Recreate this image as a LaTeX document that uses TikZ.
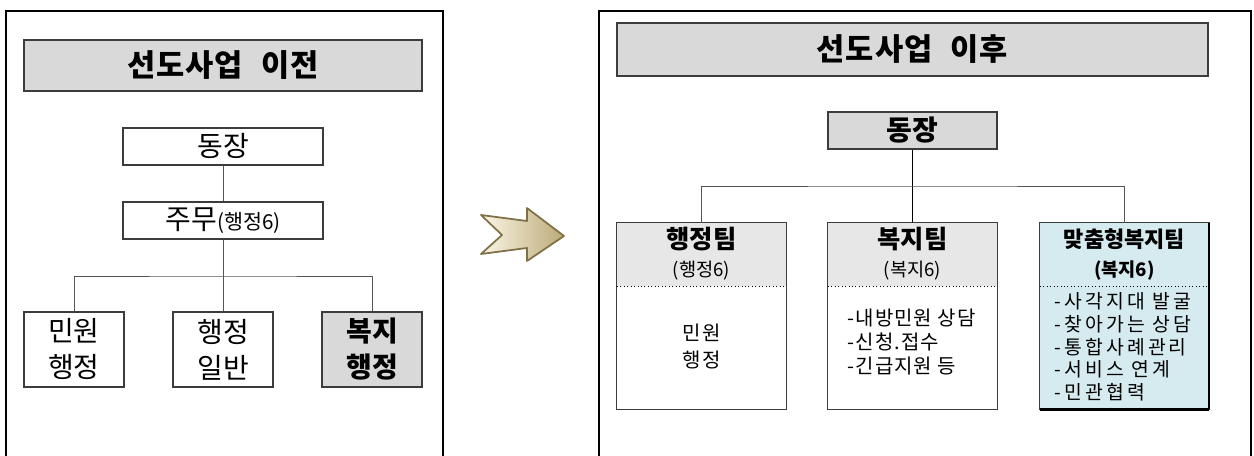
\documentclass[tikz,border=0pt]{standalone}
\usepackage{fontspec}
\setmainfont{Noto Sans CJK KR}
\usepackage{tikz}

\definecolor{titlegray}{RGB}{217,217,217}
\definecolor{headgray}{RGB}{231,231,231}
\definecolor{teamblue}{RGB}{214,235,239}
\definecolor{boxline}{RGB}{60,60,60}
\definecolor{linkgray}{RGB}{85,85,85}
\definecolor{arrowline}{RGB}{128,112,70}
\definecolor{arrowlight}{RGB}{250,246,230}
\definecolor{arrowdark}{RGB}{188,170,120}

\tikzset{
  panelframe/.style={line width=2.2pt, line join=miter},
  titlebox/.style={draw=boxline, line width=0.9pt, fill=titlegray, inner sep=0pt,
    font=\fontsize{23}{27}\selectfont\bfseries\addfontfeature{LetterSpace=3}},
  plainbox/.style={draw=boxline, line width=0.9pt, fill=white, inner sep=0pt, align=center},
  teamhead/.style={fill=headgray, inner sep=0pt, minimum width=126.75pt, minimum height=47.25pt},
  teambody/.style={fill=white, inner sep=0pt, minimum width=126.75pt, minimum height=92.25pt},
  link/.style={draw=linkgray, line width=0.7pt},
}

\begin{document}
\begin{tikzpicture}[x=0.75pt,y=0.75pt,yscale=-1,xscale=1]
\useasboundingbox (0,0) rectangle (1254,456);

%Shape: Frame [left panel]
\draw [panelframe] (6,460) -- (6,11) -- (443,11) -- (443,460) ;
%Shape: Frame [right panel]
\draw [panelframe] (599,460) -- (599,11) -- (1251,11) -- (1251,460) ;

% Text Node
\node [titlebox, minimum width=298.5pt, minimum height=38.25pt] (ltitle) at (223,65.5) {선도사업\hspace{0.6em}이전};
% Text Node
\node [plainbox, minimum width=150pt, minimum height=27.75pt, font=\fontsize{21}{24}\selectfont] (ldong) at (223,146.5) {동장};
% Text Node
\node [plainbox, minimum width=150pt, minimum height=27.75pt, font=\fontsize{21}{24}\selectfont] (ljumu) at (223,220.5) {주무{\fontsize{15.5}{18}\selectfont(행정6)}};
% Text Node
\node [plainbox, minimum width=75pt, minimum height=56.25pt, font=\fontsize{21}{27}\selectfont] (lminwon) at (74,349.5) {민원\\행정};
% Text Node
\node [plainbox, minimum width=75pt, minimum height=56.25pt, font=\fontsize{21}{27}\selectfont] (lilban) at (223,349.5) {행정\\일반};
% Text Node
\node [plainbox, fill=titlegray, minimum width=75pt, minimum height=56.25pt, font=\fontsize{21}{27}\selectfont\bfseries] (lbokji) at (372,349.5) {복지\\행정};

\coordinate (lbus) at (223,276) ;
%Straight Lines
\draw [link] (ldong.south) -- (ljumu.north) ;
%Straight Lines
\draw [link] (ljumu.south) -- (lilban.north) ;
%Straight Lines
\draw [link] (lminwon.north) |- (lbus) -| (lbokji.north) ;

%Shape: Arrow
\draw [draw=arrowline, line width=1.3pt, line join=round, left color=arrowlight, right color=arrowdark]
  (481,215) -- (527,221) -- (527,208) -- (564,236) -- (527,261) -- (527,248) -- (481,254) -- (502,235) -- cycle ;

% Text Node
\node [titlebox, minimum width=443.25pt, minimum height=39.75pt] (rtitle) at (912.5,49.5) {선도사업\hspace{0.6em}이후};
% Text Node
\node [plainbox, fill=titlegray, minimum width=126.75pt, minimum height=27.75pt, font=\fontsize{21}{24}\selectfont\bfseries] (rdong) at (912.5,130.5) {동장};

%Shape: Team boxes (header and body)
\node [teamhead] (hhead) at (701.5,254.5) {};
\node [teambody] (hbody) at (701.5,347.5) {};
\node [teamhead] (bhead) at (912.5,254.5) {};
\node [teambody] (bbody) at (912.5,347.5) {};
\node [teamhead, fill=teamblue] (chead) at (1124.5,254.5) {};
\node [teambody, fill=teamblue] (cbody) at (1124.5,347.5) {};
\draw [draw=boxline, line width=0.9pt] (hhead.north west) rectangle (hbody.south east) ;
\draw [draw=boxline, line width=0.9pt] (bhead.north west) rectangle (bbody.south east) ;
\draw [draw=boxline, line width=0.9pt] (chead.north west) rectangle (cbody.south east) ;
\draw [line width=2pt] (cbody.south west) -- (cbody.south east) ;
\draw [line width=1.3pt] (chead.north east) -- (cbody.south east) ;
%Dotted Lines
\draw [dotted, line width=0.6pt] (hhead.south west) -- (hhead.south east) ;
\draw [dotted, line width=0.6pt] (bhead.south west) -- (bhead.south east) ;
\draw [dotted, line width=0.6pt] (chead.south west) -- (chead.south east) ;

% Text Node
\node [font=\fontsize{19}{22}\selectfont\bfseries] (hname) at (701.5,239) {행정팀};
% Text Node
\node [font=\fontsize{14}{16}\selectfont] (hcount) at (701.5,271) {(행정6)};
% Text Node
\node [font=\fontsize{19}{22}\selectfont\bfseries] (bname) at (912.5,239) {복지팀};
% Text Node
\node [font=\fontsize{14}{16}\selectfont] (bcount) at (912.5,271) {(복지6)};
% Text Node
\node [font=\fontsize{16.5}{19}\selectfont\bfseries] (cname) at (1124.5,239) {맞춤형복지팀};
% Text Node
\node [font=\fontsize{14}{16}\selectfont\bfseries] (ccount) at (1124.5,271) {(복지6)};

% Text Node
\node [align=center, font=\fontsize{15}{20}\selectfont\addfontfeature{LetterSpace=5}] (htask) at (701.5,346.5) {민원\\행정};
% Text Node
\node [anchor=west, align=left, font=\fontsize{15}{18}\selectfont\addfontfeature{LetterSpace=5}] (btask) at (843,342) {-내방민원 상담\\-신청.접수\\-긴급지원 등};
% Text Node
\node [anchor=west, align=left, font=\fontsize{14.5}{17}\selectfont\addfontfeature{LetterSpace=16}] (ctask) at (1050,347) {-사각지대 발굴\\-찾아가는 상담\\-통합사례관리\\-서비스 연계\\-민관협력};

\coordinate (rbus) at (912.5,186) ;
%Straight Lines
\draw [draw=black, line width=0.7pt] (rdong.south) -- (bhead.north) ;
%Straight Lines
\draw [link] (hhead.north) |- (rbus) -| (chead.north) ;
\end{tikzpicture}
\end{document}
